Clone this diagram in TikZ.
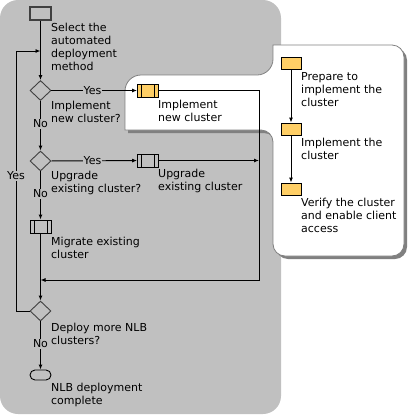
\documentclass[tikz,border=0pt]{standalone}
\usepackage{fontspec}
\setmainfont{DejaVu Sans}
\usepackage{tikz}
\usetikzlibrary{shapes.geometric, positioning, arrows.meta}

\definecolor{panelgray}{RGB}{192,192,192}
\definecolor{shadowgray}{RGB}{128,128,128}
\definecolor{boxorange}{RGB}{255,207,102}
\definecolor{linegray}{RGB}{64,64,64}

\tikzset{
  flow/.style={draw=black, line width=0.9pt},
  arrow/.style={-{Latex[length=5pt,width=4pt]}},
  decision/.style={diamond, draw=linegray, line width=0.9pt, minimum width=21pt, minimum height=20pt, inner sep=0pt},
  stepbox/.style={rectangle, draw=black, line width=0.9pt, fill=boxorange, minimum width=20pt, minimum height=12pt, inner sep=0pt},
  startbox/.style={rectangle, draw=linegray, line width=1.2pt, minimum width=21pt, minimum height=13pt, inner sep=0pt},
  subproc/.style={rectangle, draw=black, line width=0.9pt, minimum width=21pt, minimum height=13pt, inner sep=0pt,
    path picture={
      \draw[black, line width=0.9pt] ([xshift=4pt]path picture bounding box.north west) -- ([xshift=4pt]path picture bounding box.south west);
      \draw[black, line width=0.9pt] ([xshift=-4pt]path picture bounding box.north east) -- ([xshift=-4pt]path picture bounding box.south east);}},
  terminal/.style={rectangle, rounded corners=5pt, draw=black, line width=0.9pt, minimum width=21pt, minimum height=10pt, inner sep=0pt},
  txt/.style={anchor=north west, inner sep=0pt, align=left, font=\fontsize{11}{13}\selectfont},
  lbl/.style={fill=panelgray, inner sep=1pt, font=\fontsize{11}{13}\selectfont}
}

\begin{document}
\begin{tikzpicture}[x=1pt, y=-1pt]
    \useasboundingbox (0,0) rectangle (409,416);
    % Gray panel
    \fill[panelgray, rounded corners=18] (0,0) rectangle (281,414);
    % White tab with shadow
    \fill[shadowgray, shift={(3,3)}]
        (300,45) [rounded corners=12] -- (404,45) -- (404,256) -- (273,256) -- (273,130)
        [sharp corners] -- (125,130) [rounded corners=16] -- (125,75) -- (273,75)
        [sharp corners] -- (273,45) [rounded corners=12] -- cycle;
    \draw[shadowgray, line width=0.8pt, fill=white]
        (300,45) [rounded corners=12] -- (404,45) -- (404,256) -- (273,256) -- (273,130)
        [sharp corners] -- (125,130) [rounded corners=16] -- (125,75) -- (273,75)
        [sharp corners] -- (273,45) [rounded corners=12] -- cycle;

    % Main flow
    \node[startbox] (start) at (40.5,13.5) {};
    \node[decision] (isnew) at (40.5,90.5) {};
    \node[subproc, fill=boxorange] (implnew) at (148,90.5) {};
    \node[decision] (isupgrade) at (40.5,161) {};
    \node[subproc] (upgrade) at (148,160.5) {};
    \node[subproc] (migrate) at (40.5,226.5) {};
    \node[decision] (ismore) at (40.5,311) {};
    \node[terminal] (done) at (40.5,375) {};
    % Sub steps
    \node[stepbox] (prep) at (291,63) {};
    \node[stepbox] (impl) at (291,129) {};
    \node[stepbox] (verify) at (291,189) {};

    % Join points
    \coordinate (rjoin) at (259,280);
    \coordinate (ljoin) at (40.5,280);
    \coordinate (loopbot) at (16,311);
    \coordinate (looptop) at (16,51);
    \coordinate (loopin) at (40.5,51);

    % Texts
    \node[txt] (startlbl) at (51,22.5) {Select the\\automated\\deployment\\method};
    \node[txt] (isnewlbl) at (51,100.5) {Implement\\new cluster?};
    \node[txt] (implnewlbl) at (158,99.5) {Implement\\new cluster};
    \node[txt] (isupgradelbl) at (51,170.5) {Upgrade\\existing cluster?};
    \node[txt] (upgradelbl) at (158,168.5) {Upgrade\\existing cluster};
    \node[txt] (migratelbl) at (51,236.5) {Migrate existing\\cluster};
    \node[txt] (ismorelbl) at (51,322.5) {Deploy more NLB\\clusters?};
    \node[txt] (donelbl) at (51,382.5) {NLB deployment\\complete};
    \node[txt] (preplbl) at (301,72) {Prepare to\\implement the\\cluster};
    \node[txt] (impllbl) at (301,138) {Implement the\\cluster};
    \node[txt] (verifylbl) at (301,197.5) {Verify the cluster\\and enable client\\access};

    % Connectors
    \draw[flow, arrow] (start) -- (isnew);
    \draw[flow, arrow] (isnew) -- node[lbl, pos=0.48] {Yes} (implnew);
    \draw[flow, arrow] (isnew) -- node[lbl, pos=0.46] {No} (isupgrade);
    \draw[flow, arrow] (isupgrade) -- node[lbl, pos=0.48] {Yes} (upgrade);
    \draw[flow, arrow] (isupgrade) -- node[lbl, pos=0.47] {No} (migrate);
    \draw[flow, arrow] (upgrade) -- (upgrade.east -| rjoin);
    \draw[flow, arrow] (implnew) -| (rjoin) -- (ljoin);
    \draw[flow, arrow] (migrate) -- (ismore);
    \draw[flow, arrow] (ismore.west) -- (loopbot) -- node[lbl, pos=0.52] {Yes} (looptop) -- (loopin);
    \draw[flow, arrow] (ismore) -- node[lbl, pos=0.47] {No} (done);
    \draw[flow, arrow] (prep) -- (impl);
    \draw[flow, arrow] (impl) -- (verify);
\end{tikzpicture}
\end{document}
